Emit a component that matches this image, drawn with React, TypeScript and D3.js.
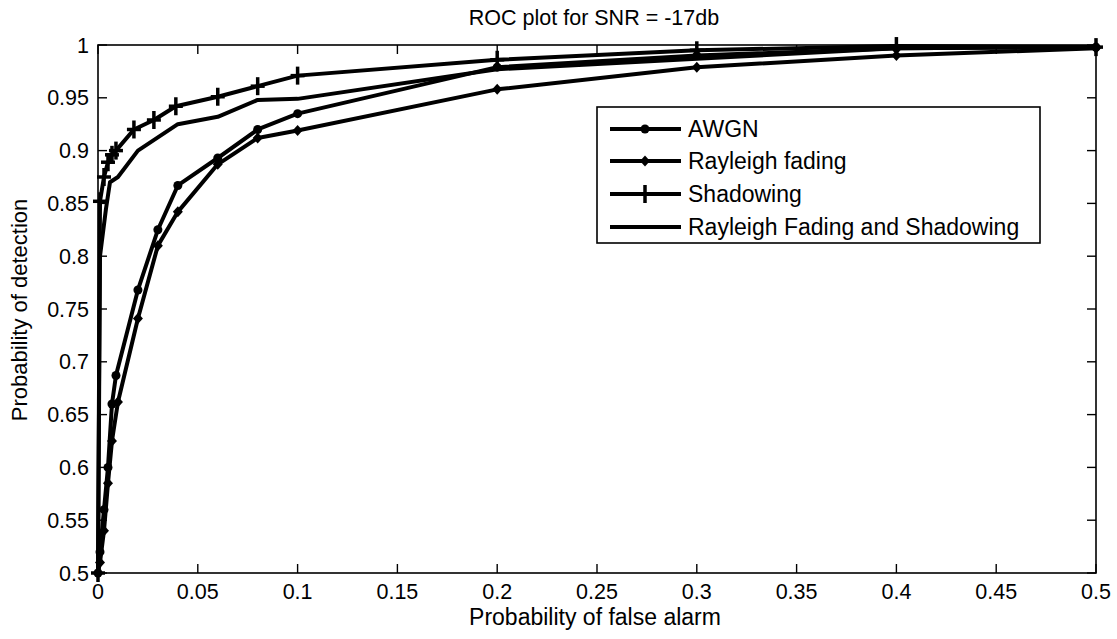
import React from "react";
import * as d3 from "d3";

const title = "ROC plot for SNR = -17db";
const xLabel = "Probability of false alarm";
const yLabel = "Probability of detection";
const xTicks = [0, 0.05, 0.1, 0.15, 0.2, 0.25, 0.3, 0.35, 0.4, 0.45, 0.5];
const yTicks = [0.5, 0.55, 0.6, 0.65, 0.7, 0.75, 0.8, 0.85, 0.9, 0.95, 1];

const awgnX = [0, 0.001, 0.003, 0.005, 0.007, 0.009, 0.02, 0.03, 0.04, 0.06, 0.08, 0.1, 0.2, 0.3, 0.4, 0.5];
const awgnY = [0.5, 0.52, 0.56, 0.6, 0.66, 0.687, 0.768, 0.825, 0.867, 0.893, 0.92, 0.935, 0.979, 0.99, 0.997, 0.998];

const rayX = [0, 0.001, 0.003, 0.005, 0.007, 0.01, 0.02, 0.03, 0.04, 0.06, 0.08, 0.1, 0.2, 0.3, 0.4, 0.5];
const rayY = [0.5, 0.51, 0.54, 0.585, 0.625, 0.662, 0.741, 0.81, 0.842, 0.887, 0.912, 0.919, 0.958, 0.979, 0.99, 0.997];

const shadX = [0, 0.001, 0.003, 0.005, 0.007, 0.009, 0.018, 0.028, 0.039, 0.06, 0.08, 0.1, 0.2, 0.3, 0.4, 0.5];
const shadY = [0.5, 0.852, 0.875, 0.889, 0.896, 0.9, 0.92, 0.929, 0.942, 0.951, 0.961, 0.971, 0.986, 0.995, 0.999, 0.998];

const rfsX = [0, 0.001, 0.004, 0.006, 0.01, 0.02, 0.04, 0.06, 0.08, 0.1, 0.2, 0.3, 0.4, 0.5];
const rfsY = [0.5, 0.8, 0.845, 0.87, 0.875, 0.9, 0.925, 0.932, 0.948, 0.949, 0.977, 0.987, 0.997, 0.998];

const legendLabels = ["AWGN", "Rayleigh fading", "Shadowing", "Rayleigh Fading and Shadowing"];

type Marker = "dot" | "diamond" | "plus" | "none";

const series: { xs: number[]; ys: number[]; marker: Marker }[] = [
  { xs: awgnX, ys: awgnY, marker: "dot" },
  { xs: rayX, ys: rayY, marker: "diamond" },
  { xs: shadX, ys: shadY, marker: "plus" },
  { xs: rfsX, ys: rfsY, marker: "none" },
];

const W = 1117;
const H = 639;
const L = 98, R = 1096, T = 45, B = 573;
const FONT = "Arial, 'Liberation Sans', Helvetica, sans-serif";

function MarkerGlyph({ type, x, y }: { type: Marker; x: number; y: number }) {
  if (type === "dot") return <circle cx={x} cy={y} r={4.5} fill="#000" />;
  if (type === "diamond")
    return <path d={`M${x},${y - 5.5}L${x + 5},${y}L${x},${y + 5.5}L${x - 5},${y}Z`} fill="#000" />;
  if (type === "plus")
    return (
      <g stroke="#000" strokeWidth={3.5}>
        <line x1={x - 7} y1={y} x2={x + 7} y2={y} />
        <line x1={x} y1={y - 9} x2={x} y2={y + 9} />
      </g>
    );
  return null;
}

export default function App() {
  const x = d3.scaleLinear().domain([0, 0.5]).range([L, R]);
  const y = d3.scaleLinear().domain([0.5, 1]).range([B, T]);
  const line = d3
    .line<[number, number]>()
    .x((d) => x(d[0]))
    .y((d) => y(d[1]));

  const legX = 597, legY = 107, legW = 443, legH = 136;
  const rowsY = [129, 161, 194, 227];

  return (
    <svg
      width={W}
      height={H}
      style={{ position: "absolute", left: 0, top: 0, background: "#fff" }}
      fontFamily={FONT}
    >
      <rect x={0} y={0} width={W} height={H} fill="#fff" />
      <text x={594} y={25} textAnchor="middle" fontSize={21.5}>
        {title}
      </text>

      <defs>
        <clipPath id="clip">
          <rect x={L - 2} y={T - 4} width={R - L + 6} height={B - T + 6} />
        </clipPath>
      </defs>

      {/* curves */}
      <g clipPath="url(#clip)">
        {series.map((s, i) => (
          <path
            key={i}
            d={line(s.xs.map((v, j) => [v, s.ys[j]] as [number, number])) || ""}
            fill="none"
            stroke="#000"
            strokeWidth={4}
            strokeLinejoin="round"
          />
        ))}
      </g>
      {series.map((s, i) =>
        s.marker === "none" ? null : (
          <g key={"m" + i}>
            {s.xs.map((v, j) => (
              <MarkerGlyph key={j} type={s.marker} x={x(v)} y={y(s.ys[j])} />
            ))}
          </g>
        )
      )}

      {/* frame */}
      <rect x={L} y={T} width={R - L} height={B - T} fill="none" stroke="#000" strokeWidth={1.6} />

      {/* x ticks */}
      {xTicks.map((t, i) => (
        <g key={"xt" + i}>
          <line x1={x(t)} x2={x(t)} y1={B} y2={B - 9} stroke="#000" strokeWidth={1.4} />
          <line x1={x(t)} x2={x(t)} y1={T} y2={T + 9} stroke="#000" strokeWidth={1.4} />
          <text x={x(t)} y={599} textAnchor="middle" fontSize={21.5}>
            {String(t)}
          </text>
        </g>
      ))}
      {/* y ticks */}
      {yTicks.map((t, i) => (
        <g key={"yt" + i}>
          <line x1={L} x2={L + 9} y1={y(t)} y2={y(t)} stroke="#000" strokeWidth={1.4} />
          <line x1={R} x2={R - 9} y1={y(t)} y2={y(t)} stroke="#000" strokeWidth={1.4} />
          <text x={89} y={y(t) + 7.5} textAnchor="end" fontSize={21.5}>
            {String(t)}
          </text>
        </g>
      ))}

      <text x={595} y={625} textAnchor="middle" fontSize={23}>
        {xLabel}
      </text>
      <text
        transform={`translate(27, ${310}) rotate(-90)`}
        textAnchor="middle"
        fontSize={22}
      >
        {yLabel}
      </text>

      {/* legend */}
      <rect x={legX} y={legY} width={legW} height={legH} fill="#fff" stroke="#000" strokeWidth={1.6} />
      {series.map((s, i) => (
        <g key={"lg" + i}>
          <line x1={610} x2={681} y1={rowsY[i]} y2={rowsY[i]} stroke="#000" strokeWidth={4} />
          <MarkerGlyph type={s.marker} x={645} y={rowsY[i]} />
          <text x={688} y={rowsY[i] + 8} fontSize={23}>
            {legendLabels[i]}
          </text>
        </g>
      ))}
    </svg>
  );
}
